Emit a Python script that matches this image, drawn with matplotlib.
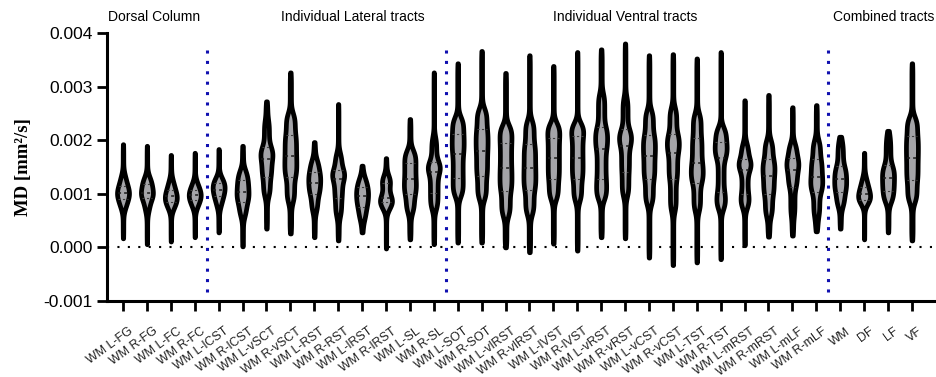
import numpy as np
import matplotlib
matplotlib.use("Agg")
import matplotlib.pyplot as plt
from matplotlib.ticker import FuncFormatter, MultipleLocator
import matplotlib.transforms as mtrans

# tract names
labels = ["WM L-FG", "WM R-FG", "WM L-FC", "WM R-FC", "WM L-lCST", "WM R-lCST",
          "WM L-vSCT", "WM R-vSCT", "WM L-RST", "WM R-RST", "WM L-lRST", "WM R-lRST",
          "WM L-SL", "WM R-SL", "WM L-SOT", "WM R-SOT", "WM L-vlRST", "WM R-vlRST",
          "WM L-lVST", "WM R-lVST", "WM L-vRST", "WM R-vRST", "WM L-vCST", "WM R-vCST",
          "WM L-TST", "WM R-TST", "WM L-mRST", "WM R-mRST", "WM L-mLF", "WM R-mLF",
          "WM", "DF", "LF", "VF"]

# MD values, in 10^-3 mm2/s
md_min = [0.17, 0.06, 0.11, 0.19, 0.28, 0.02, 0.35, 0.26, 0.19, 0.13, 0.28, -0.02,
          0.15, 0.06, 0.09, 0.09, 0.00, -0.09, 0.07, -0.06, 0.19, 0.17, -0.19, -0.33,
          -0.28, -0.22, 0.04, 0.20, 0.22, 0.30, 0.35, 0.15, 0.28, 0.13]
md_p05 = [0.72, 0.67, 0.71, 0.74, 0.76, 0.58, 0.95, 0.84, 0.67, 0.58, 0.52, 0.71,
          0.65, 0.71, 0.95, 0.89, 0.58, 0.61, 0.89, 0.86, 0.89, 0.95, 0.80, 0.67,
          0.67, 0.71, 0.74, 0.58, 0.58, 0.58, 0.76, 0.84, 0.84, 0.84]
md_q1 = [0.90, 0.92, 0.85, 0.88, 0.95, 0.85, 1.32, 1.32, 0.99, 0.93, 0.76, 0.84,
         0.99, 1.02, 1.30, 1.34, 1.06, 1.08, 1.27, 1.28, 1.28, 1.41, 1.28, 1.27,
         1.21, 1.04, 0.99, 0.99, 1.13, 1.04, 1.04, 0.89, 1.06, 1.25]
md_med = [1.02, 1.02, 0.95, 0.98, 1.08, 1.04, 1.64, 1.70, 1.21, 1.27, 0.95, 0.93,
          1.27, 1.40, 1.75, 1.79, 1.49, 1.49, 1.66, 1.67, 1.84, 1.90, 1.71, 1.77,
          1.58, 1.67, 1.45, 1.34, 1.45, 1.32, 1.27, 1.00, 1.30, 1.67]
md_q3 = [1.15, 1.18, 1.08, 1.08, 1.20, 1.25, 1.88, 2.10, 1.41, 1.45, 1.12, 1.21,
         1.58, 1.60, 2.12, 2.20, 1.95, 1.92, 2.05, 2.07, 2.25, 2.20, 2.10, 2.12,
         2.05, 1.97, 1.64, 1.64, 1.67, 1.64, 1.51, 1.13, 1.53, 2.07]
md_p95 = [1.36, 1.32, 1.27, 1.23, 1.30, 1.45, 2.38, 2.51, 1.64, 1.77, 1.30, 1.32,
          1.82, 2.07, 2.44, 2.60, 2.29, 2.38, 2.33, 2.33, 2.88, 2.81, 2.57, 2.62,
          2.51, 2.25, 1.95, 2.01, 1.95, 2.01, 1.92, 1.32, 2.01, 2.44]
md_max = [1.93, 1.90, 1.73, 1.77, 1.84, 1.90, 2.73, 3.27, 1.97, 2.68, 1.53, 1.67,
          2.40, 3.27, 3.44, 3.67, 3.26, 3.59, 3.39, 3.65, 3.70, 3.81, 3.59, 3.61,
          3.53, 3.65, 2.75, 2.85, 2.62, 2.66, 2.07, 1.77, 2.18, 3.44]
probs = [0, 0.05, 0.25, 0.5, 0.75, 0.95, 1.0]

groups = ["Dorsal Column", "Individual Lateral tracts", "Individual Ventral tracts", "Combined tracts"]
group_x = [1.3, 9.6, 21.0, 31.8]
sep_x = [3.5, 13.5, 29.5]

plt.rcParams["font.family"] = ["Liberation Sans", "DejaVu Sans"]

fig = plt.figure(figsize=(9.36, 3.77), dpi=100)
ax = fig.add_axes([0.1143, 0.2016, 0.885, 0.7109])

scale = 1e-3
step = 0.005
sig = 0.1
kx = np.arange(-80, 81) * step
kern = np.exp(-0.5 * (kx / sig) ** 2)
kern = kern / kern.sum()
half_w = 0.25

for i in range(len(labels)):
    q = [md_min[i], md_p05[i], md_q1[i], md_med[i], md_q3[i], md_p95[i], md_max[i]]
    y = np.arange(q[0] - 0.5, q[-1] + 0.5, step)
    dens = np.zeros_like(y)
    for a, b, p0, p1 in zip(q[:-1], q[1:], probs[:-1], probs[1:]):
        m = (y >= a) & (y < b)
        dens[m] = (p1 - p0) / (b - a)
    dens = np.convolve(dens, kern, mode="same")
    keep = (y >= q[0]) & (y <= q[-1])
    y = y[keep]
    w = dens[keep] / dens[keep].max() * half_w
    ax.fill_betweenx(y * scale, i - w, i + w, facecolor="#a4a4a8", edgecolor="black",
                     linewidth=3.4, joinstyle="round", capstyle="round", zorder=3)
    for v, lw, c in [(q[2], 0.8, "#404040"), (q[3], 1.1, "#1a1a1a"), (q[4], 0.8, "#404040")]:
        wv = np.interp(v, y, w) - 0.02
        ax.plot([i - wv, i + wv], [v * scale, v * scale], color=c, lw=lw,
                linestyle=(0, (2, 2)), zorder=4)

ax.axhline(0, color="black", lw=1.5, linestyle=(0, (1, 4)), zorder=1)
for sx in sep_x:
    ax.plot([sx, sx], [-0.00084, 0.0038], color="#1010b0", lw=2.2,
            linestyle=(0, (1, 2.4)), zorder=2)

for g, gx in zip(groups, group_x):
    ax.text(gx, 0.0043, g, ha="center", va="center", fontsize=10, clip_on=False)

ax.set_xlim(-0.67, 33.98)
ax.set_ylim(-0.001, 0.004)
ax.yaxis.set_major_locator(MultipleLocator(0.001))
ax.yaxis.set_major_formatter(FuncFormatter(lambda v, p: f"{v:.3f}"))
ax.set_xticks(range(len(labels)))
ax.set_xticklabels([])

# rotated tract names under the ticks
lab_tr = ax.get_xaxis_transform() + mtrans.ScaledTranslation(4 / 72, -17.5 / 72, fig.dpi_scale_trans)
for i, lab in enumerate(labels):
    ax.text(i, 0, lab, transform=lab_tr, rotation=36, ha="right", va="top",
            rotation_mode="anchor", fontsize=9, color="#222222")

ax.tick_params(axis="y", labelsize=12.5, width=2, length=7)
ax.tick_params(axis="x", width=2, length=7)
for s in ["top", "right"]:
    ax.spines[s].set_visible(False)
for s in ["left", "bottom"]:
    ax.spines[s].set_linewidth(2.2)

ax.set_ylabel("MD [mm²/s]", fontfamily="Liberation Serif", fontweight="bold", fontsize=13.5,
              labelpad=8)

fig.savefig("out.png", dpi=100)
